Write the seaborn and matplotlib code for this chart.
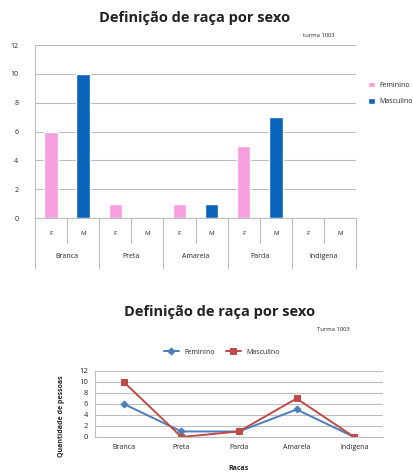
import matplotlib
matplotlib.use("Agg")
import matplotlib.pyplot as plt
import matplotlib.transforms as mtransforms
import numpy as np
import pandas as pd
import seaborn as sns

sns.set_style("white")
plt.rcParams['font.family'] = ['Open Sans', 'DejaVu Sans']

# dados do grafico de barras (em cima)
racas_barras = ['Branca', 'Preta', 'Amarela', 'Parda', 'Indígena']
feminino_barras = [6, 1, 1, 5, 0]
masculino_barras = [10, 0, 1, 7, 0]

# dados do grafico de linhas (em baixo)
racas_linhas = ['Branca', 'Preta', 'Parda', 'Amarela', 'Indígena']
feminino_linhas = [6, 1, 1, 5, 0]
masculino_linhas = [10, 0, 1, 7, 0]

rosa = '#F59FDC'
azul = '#0A64BA'
linha_azul = '#4A7EBB'
linha_verm = '#BE4B48'
cinza = '#BDBDBD'

fig = plt.figure(figsize=(4.14, 4.72), dpi=100)

# ---------- grafico de barras ----------
linhas = []
for r, f, m in zip(racas_barras, feminino_barras, masculino_barras):
    linhas.append({'pos': r + ' F', 'sexo': 'Feminino', 'valor': f})
    linhas.append({'pos': r + ' M', 'sexo': 'Masculino', 'valor': m})
df_barras = pd.DataFrame(linhas)

ax1 = fig.add_axes([0.0845, 0.538, 0.7755, 0.3665])
sns.barplot(data=df_barras, x='pos', y='valor', hue='sexo', dodge=False,
            palette={'Feminino': rosa, 'Masculino': azul}, width=0.42,
            saturation=1, order=list(df_barras['pos']), ax=ax1, legend=True)
ax1.set_xlim(-0.5, len(df_barras) - 0.5)
ax1.set_ylim(0, 12)
ax1.set_yticks(range(0, 13, 2))
ax1.yaxis.grid(True, color=cinza, lw=0.8)
ax1.set_axisbelow(True)
for s in ['top', 'right', 'left']:
    ax1.spines[s].set_visible(False)
ax1.spines['bottom'].set_color(cinza)
ax1.spines['bottom'].set_linewidth(0.8)
ax1.tick_params(axis='y', length=4, color=cinza, labelsize=5, pad=8)
ax1.set_xticks(range(len(df_barras)))
ax1.set_xticklabels(['F', 'M'] * len(racas_barras))
ax1.tick_params(axis='x', length=0, labelsize=4.5, pad=9)
ax1.set_xlabel('')
ax1.set_ylabel('')

trans = mtransforms.blended_transform_factory(ax1.transData, ax1.transAxes)
for i in range(len(racas_barras)):
    ax1.plot([2 * i + 0.5] * 2, [0, -0.145], transform=trans, color=cinza,
             lw=0.8, clip_on=False)
    ax1.text(2 * i + 0.5, -0.225, racas_barras[i], transform=trans,
             ha='center', va='center', fontsize=5)
for i in range(len(racas_barras) + 1):
    ax1.plot([2 * i - 0.5] * 2, [1, -0.289] if i == 0 else [0, -0.289],
             transform=trans, color=cinza, lw=0.8, clip_on=False)

handles, labels = ax1.get_legend_handles_labels()
ax1.legend(handles, labels, loc='center left', bbox_to_anchor=(1.03, 0.72),
           frameon=False, fontsize=5, handlelength=0.9, handleheight=0.9,
           labelspacing=1.3, handletextpad=0.7, borderaxespad=0)

fig.text(0.469, 0.962, 'Definição de raça por sexo', ha='center',
         va='center', fontsize=10.5, fontweight='bold', color='#222222')
fig.text(0.77, 0.924, 'turma 1003', ha='center', va='center', fontsize=4.2)

# ---------- grafico de linhas ----------
ax2 = fig.add_axes([0.2295, 0.0742, 0.6955, 0.1398])
x = np.arange(len(racas_linhas))
sns.lineplot(x=x, y=feminino_linhas, color=linha_azul, marker='D',
             markersize=3.5, markeredgecolor=linha_azul, lw=1.4,
             label='Feminino', ax=ax2)
sns.lineplot(x=x, y=masculino_linhas, color=linha_verm, marker='s',
             markersize=4.5, markeredgecolor=linha_verm, lw=1.4,
             label='Masculino', ax=ax2)
ax2.set_xlim(-0.5, len(racas_linhas) - 0.5)
ax2.set_ylim(0, 12)
ax2.set_yticks(range(0, 13, 2))
ax2.yaxis.grid(True, color=cinza, lw=0.8)
ax2.set_axisbelow(True)
for s in ['top', 'right']:
    ax2.spines[s].set_visible(False)
for s in ['left', 'bottom']:
    ax2.spines[s].set_color(cinza)
    ax2.spines[s].set_linewidth(0.8)
ax2.set_xticks(x)
ax2.set_xticklabels(racas_linhas)
ax2.set_xticks(np.arange(-0.5, len(racas_linhas)), minor=True)
ax2.tick_params(axis='x', which='major', length=0, labelsize=5, pad=5)
ax2.tick_params(axis='x', which='minor', length=3, color=cinza)
ax2.tick_params(axis='y', length=3, color=cinza, labelsize=5.5, pad=2)
ax2.set_xlabel('Racas', fontsize=5, fontweight='bold')
ax2.xaxis.set_label_coords(0.5, -0.42)
ax2.set_ylabel('Quantidade de pessoas', fontsize=5, fontweight='bold')
ax2.yaxis.set_label_coords(-0.105, 0.32)
ax2.legend(loc='center', bbox_to_anchor=(0.536, 0.254),
           bbox_transform=fig.transFigure, ncol=2, frameon=False,
           fontsize=5, handlelength=2.2, columnspacing=1.5)

fig.text(0.531, 0.339, 'Definição de raça por sexo', ha='center',
         va='center', fontsize=10.5, fontweight='bold', color='#222222')
fig.text(0.805, 0.301, 'Turma 1003', ha='center', va='center', fontsize=4.2)

fig.savefig('out.png', dpi=100)
